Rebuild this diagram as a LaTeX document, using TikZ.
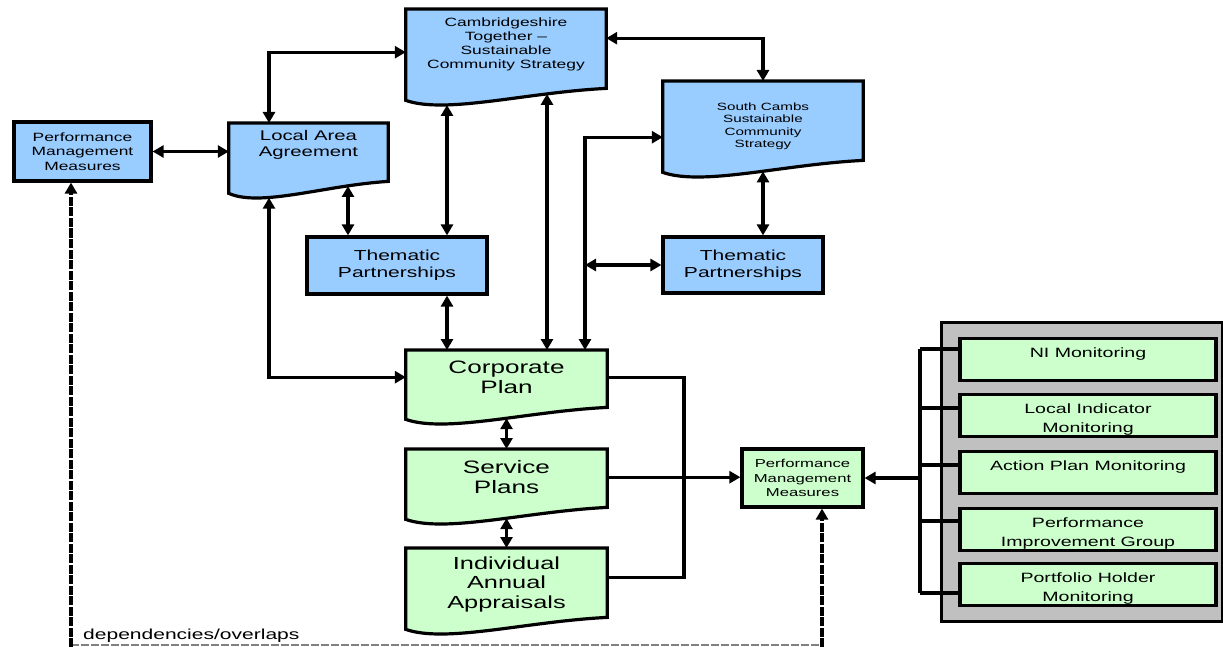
\documentclass[tikz,border=0pt]{standalone}
\usepackage{fontspec}
\setmainfont[FakeStretch=1.45]{Liberation Sans}
\usepackage{xcolor}
\definecolor{DOCBLUE}{HTML}{99CCFF}
\definecolor{PLANGREEN}{HTML}{CCFFCC}
\definecolor{PANELGRAY}{HTML}{C0C0C0}
\usepackage{tikz}
\usetikzlibrary{arrows.meta,positioning,calc,backgrounds}
\tikzset{
  basic-style/.style = {
    rectangle, draw, line width=3.2pt,
    fill=#1,
    inner sep=2pt, align=center
  },
  box-style/.style = {
    basic-style=DOCBLUE
  },
  plan-style/.style = {
    basic-style=PLANGREEN
  },
  doc-style/.style = {
    rectangle, inner sep=2pt, align=center, anchor=north
  },
  mon-style/.style = {
    basic-style=PLANGREEN,
    minimum width=256pt, minimum height=42pt, anchor=north,
    font=\fontsize{13.5}{18.5}\selectfont
  },
  panel-style/.style = {
    basic-style=PANELGRAY, anchor=north west
  },
  line-style/.style = {draw, line width=3.2pt},
  link-style/.style = {line-style, -{Triangle[length=11pt,width=12pt]}},
  dlink-style/.style = {line-style,
    {Triangle[length=11pt,width=12pt]}-{Triangle[length=11pt,width=12pt]}},
  dep-style/.style = {line-style, dash pattern=on 9pt off 1.5pt,
    -{Triangle[length=11pt,width=12pt]}},
  dep-base-style/.style = {draw=gray, line width=1.2pt, dash pattern=on 8pt off 2pt},
  doc-line/.style = {draw, line width=3.2pt}
}
\newcommand\drawDoc[3]{%
  \path[doc-line, fill=#2]
    (#1.north west) -- (#1.north east) -- ($(#1.south east)+(0,#3)$)
    .. controls ($(#1.south west)!0.6!(#1.south east)+(0,#3+4)$)
    and ($(#1.south west)!0.2!(#1.south east)+(0,#3+26)$)
    .. ($(#1.south west)+(0,#3+12)$) -- cycle;
}
\newcommand\monText[1]{\parbox[c][36pt][t]{250pt}{\centering\rule{0pt}{16pt}#1}}

\begin{document}
\begin{tikzpicture}[x=1pt, y=-1pt]
  \useasboundingbox (0,0) rectangle (1223,647);

  % lanes
  \coordinate (laneA) at (269,0);
  \coordinate (laneB) at (348,0);
  \coordinate (laneC) at (447,0);
  \coordinate (laneE) at (547,0);
  \coordinate (laneF) at (585,0);
  \coordinate (laneG) at (684,0);
  \coordinate (bus) at (920,478);
  \coordinate (busTop) at (920,349);
  \coordinate (busBot) at (920,593);
  \coordinate (depL) at (71,645);
  \coordinate (depR) at (822,645);

  % partnership level
  \node[box-style, minimum width=137, minimum height=59, font=\fontsize{12}{14.5}\selectfont]
    (pmmL) at (82.5,151.5) {Performance\\Management\\Measures};
  \node[doc-style, minimum width=159, minimum height=44, font=\fontsize{14}{16}\selectfont]
    (laa) at (308.5,123) {Local Area\\Agreement};
  \node[doc-style, minimum width=200, minimum height=70, font=\fontsize{12}{14}\selectfont]
    (ct) at (506,9) {Cambridgeshire\\Together –\\Sustainable\\Community Strategy};
  \node[doc-style, minimum width=200, minimum height=90, font=\fontsize{10.5}{12.5}\selectfont]
    (scs) at (763,81) {South Cambs\\Sustainable\\Community\\Strategy};
  \node[box-style, minimum width=180, minimum height=57, font=\fontsize{14.5}{17}\selectfont]
    (tpl) at (397,265.5) {Thematic\\Partnerships};
  \node[box-style, minimum width=160, minimum height=56, font=\fontsize{14.5}{17}\selectfont]
    (tpr) at (743,265) {Thematic\\Partnerships};

  % council level
  \node[doc-style, minimum width=201, minimum height=54, font=\fontsize{18}{20.5}\selectfont]
    (cp) at (506.5,350) {Corporate\\Plan};
  \node[doc-style, minimum width=201, minimum height=56, font=\fontsize{18}{20.5}\selectfont]
    (sp) at (506.5,449) {Service\\Plans};
  \node[doc-style, minimum width=201, minimum height=72, font=\fontsize{17.5}{19.5}\selectfont]
    (iaa) at (506.5,548) {Individual\\Annual\\Appraisals};
  \node[plan-style, minimum width=121, minimum height=58, font=\fontsize{11.5}{14.5}\selectfont]
    (pmmG) at (802.5,478) {Performance\\Management\\Measures};

  % monitoring panel
  \node[panel-style, minimum width=281, minimum height=299] (panel) at (940,321) {};
  \foreach \n/\t/\s/\txt in {ni/337/349/{NI Monitoring},
      li/393/408/{Local Indicator\\Monitoring},
      ap/450/465/{Action Plan Monitoring},
      pig/507/521/{Performance\\Improvement Group},
      ph/562/593/{Portfolio Holder\\Monitoring}} {
    \node[mon-style] (\n) at (1088,\t) {\monText{\txt}};
    \draw[line-style] (\n.west |- 0,\s) -- (bus |- 0,\s);
  }
  \draw[line-style] (busTop) -- (busBot);
  \draw[link-style] (bus) -- (pmmG.east);

  % connectors
  \draw[dlink-style] (pmmL.east) -- (pmmL.east -| laa.west);
  \draw[dlink-style] (laa.north -| laneA) |- ($(ct.west)+(0,8)$);
  \draw[dlink-style] ($(ct.east)+(0,-6)$) -| (scs.north);
  \draw[dlink-style] ($(laa.south -| laneB)+(0,18.6)$) -- (tpl.north -| laneB);
  \draw[dlink-style] ($(ct.south -| laneC)+(0,25.6)$) -- (tpl.north -| laneC);
  \draw[dlink-style] (tpl.south -| laneC) -- (cp.north -| laneC);
  \draw[dlink-style] ($(ct.south -| laneE)+(0,14.5)$) -- (cp.north -| laneE);
  \draw[dlink-style] ($(scs.west)+(0,11)$) -| (cp.north -| laneF);
  \draw[dlink-style] (tpr.west -| laneF) -- (tpr.west);
  \draw[dlink-style] (scs.south) -- (scs.south |- tpr.north);
  \draw[dlink-style] ($(laa.south -| laneA)+(0,30.3)$) |- (cp.west);
  \draw[dlink-style] ($(cp.south)+(0,13.8)$) -- (sp.north);
  \draw[dlink-style] ($(sp.south)+(0,12.8)$) -- (iaa.north);
  \draw[line-style] (cp.east) -| ($(iaa.east -| laneG)+(0,-7)$) -- ($(iaa.east)+(0,-7)$);
  \draw[link-style] (sp.east) -- (sp.east -| pmmG.west);

  % dependencies
  \draw[dep-base-style] (depL) -- (depR);
  \draw[dep-style] ($(depL)+(0,2)$) -- (pmmL.south -| depL);
  \draw[dep-style] ($(depR)+(0,2)$) -- (pmmG.south -| depR);
  \node[anchor=base west, inner sep=0pt, font=\fontsize{14.5}{17}\selectfont]
    (depText) at ($(depL)+(12,-6)$) {dependencies/overlaps};

  \begin{pgfonlayer}{background}
    \drawDoc{laa}{DOCBLUE}{14}
    \drawDoc{ct}{DOCBLUE}{9}
    \drawDoc{scs}{DOCBLUE}{-11}
    \drawDoc{cp}{PLANGREEN}{3}
    \drawDoc{sp}{PLANGREEN}{2}
    \drawDoc{iaa}{PLANGREEN}{-3}
  \end{pgfonlayer}
\end{tikzpicture}
\end{document}
